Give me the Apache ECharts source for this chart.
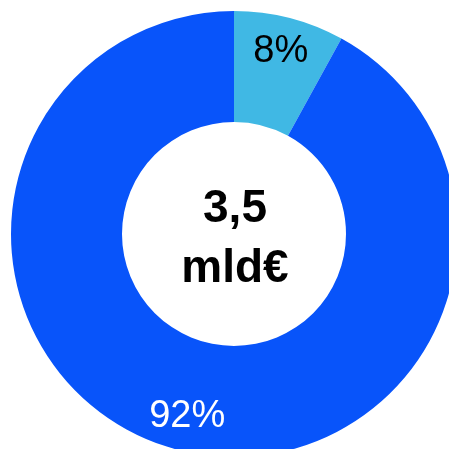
<!DOCTYPE html>
<html>
<head>
<meta charset="utf-8">
<script src="https://cdn.jsdelivr.net/npm/echarts@6/dist/echarts.min.js"></script>
<style>
  html, body { margin: 0; padding: 0; background: #fff; }
  #chart { width: 449px; height: 449px; }
</style>
</head>
<body>
<div id="chart"></div>
<script>
// Share breakdown of the total
const categories = ['Quota A', 'Quota B'];
const shares = [8, 92];
const sliceColors = ['#40B8E4', '#0854FA'];
const labelColors = ['#000000', '#ffffff'];
const centerLines = ['3,5', 'mld€'];

const FONT = '"Liberation Sans", Arial, sans-serif';
const CENTER = [234, 234];

const sliceData = categories.map((name, i) => ({
  name,
  value: shares[i],
  itemStyle: { color: sliceColors[i] }
}));

// Transparent ring used only to place percentage labels further out on the ring
const labelData = categories.map((name, i) => ({
  name,
  value: shares[i],
  label: { color: labelColors[i] }
}));

const chart = echarts.init(document.getElementById('chart'), null, { renderer: 'canvas' });
chart.setOption({
  animation: false,
  series: [
    {
      type: 'pie',
      center: CENTER,
      radius: [112, 223],
      startAngle: 90,
      clockwise: true,
      silent: true,
      label: { show: false },
      labelLine: { show: false },
      itemStyle: { borderWidth: 0 },
      data: sliceData
    },
    {
      type: 'pie',
      center: CENTER,
      radius: [150, 220],
      startAngle: 90,
      clockwise: true,
      silent: true,
      itemStyle: { color: 'rgba(0,0,0,0)', borderWidth: 0 },
      label: {
        show: true,
        position: 'inside',
        formatter: '{c}%',
        fontFamily: FONT,
        fontSize: 38,
        fontWeight: 'normal'
      },
      labelLine: { show: false },
      data: labelData
    }
  ],
  graphic: [
    {
      type: 'text',
      x: CENTER[0] + 1,
      y: CENTER[1] + 5,
      style: {
        text: centerLines.join('\n'),
        fontFamily: FONT,
        fontSize: 46,
        fontWeight: 'bold',
        lineHeight: 60,
        fill: '#000',
        align: 'center',
        verticalAlign: 'middle'
      }
    }
  ]
});
</script>
</body>
</html>
